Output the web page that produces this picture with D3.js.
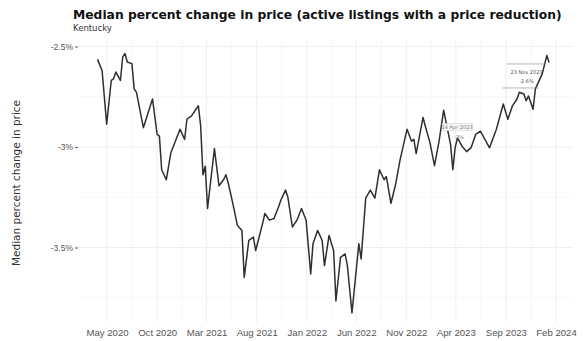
<!DOCTYPE html>
<html>
<head>
<meta charset="utf-8">
<script src="https://cdn.jsdelivr.net/npm/d3@7"></script>
<style>
  body { margin: 0; background: #fff; }
  svg { display: block; font-family: "DejaVu Sans", sans-serif; }
</style>
</head>
<body>
<svg id="vis" width="584" height="341"></svg>
<script>
// weeks counted from the first observation (early April 2020)
const startDate = new Date(2020, 3, 2);
const weekNo = [0, 2, 4, 6, 7, 8, 10, 11, 12, 13, 15, 16, 17, 20, 24, 26, 27, 28, 30, 32,
  36, 38, 39, 41, 44, 45, 46, 47, 48, 51, 53, 55, 56, 57, 59, 61, 63, 64, 66, 68,
  69, 72, 73, 75, 77, 79, 80, 82, 83, 85, 87, 89, 91, 93, 94, 96, 98, 99, 101, 103,
  104, 106, 108, 109, 111, 114, 115, 117, 119, 121, 123, 125, 126, 128, 130, 132, 133, 135, 137, 138,
  139, 142, 143, 145, 147, 149, 151, 152, 154, 155, 156, 157, 159, 161, 163, 165, 167, 169, 171, 174,
  177, 179, 181, 183, 184, 186, 187, 188, 190, 191, 194, 195, 196, 197];
const medianChange = [-2.564, -2.619, -2.887, -2.669, -2.661, -2.627, -2.669, -2.552, -2.535, -2.577,
  -2.585, -2.711, -2.728, -2.904, -2.761, -2.937, -2.946, -3.113, -3.163, -3.029,
  -2.912, -2.962, -2.862, -2.845, -2.795, -2.895, -3.138, -3.096, -3.306, -3.008,
  -3.193, -3.163, -3.138, -3.178, -3.279, -3.389, -3.415, -3.649, -3.465, -3.448,
  -3.515, -3.381, -3.331, -3.364, -3.356, -3.297, -3.264, -3.214, -3.247, -3.398,
  -3.364, -3.306, -3.364, -3.632, -3.481, -3.415, -3.465, -3.590, -3.440, -3.515,
  -3.766, -3.549, -3.532, -3.590, -3.825, -3.481, -3.557, -3.254, -3.214, -3.254,
  -3.113, -3.163, -3.147, -3.280, -3.188, -3.063, -3.013, -2.912, -2.971, -2.962,
  -3.033, -2.853, -2.897, -2.977, -3.093, -2.971, -2.817, -2.874, -2.987, -3.113,
  -3.003, -2.955, -2.996, -3.023, -3.003, -2.937, -2.921, -2.962, -3.004, -2.912,
  -2.786, -2.862, -2.795, -2.761, -2.728, -2.736, -2.770, -2.746, -2.812, -2.711,
  -2.636, -2.590, -2.545, -2.580];

const yTicks = [-3.5, -3, -2.5];
const yTickLabels = ['-3.5%', '-3%', '-2.5%'];
const xTickDates = ['2020-05-01', '2020-10-01', '2021-03-01', '2021-08-01', '2022-01-01',
  '2022-06-01', '2022-11-01', '2023-04-01', '2023-09-01', '2024-02-01'];
const xTickLabels = ['May 2020', 'Oct 2020', 'Mar 2021', 'Aug 2021', 'Jan 2022',
  'Jun 2022', 'Nov 2022', 'Apr 2023', 'Sep 2023', 'Feb 2024'];

const titleText = 'Median percent change in price (active listings with a price reduction)';
const subtitleText = 'Kentucky';
const yTitle = 'Median percent change in price';

const data = weekNo.map((w, i) => ({ date: d3.timeDay.offset(startDate, w * 7), value: medianChange[i] }));
const parse = d3.timeParse('%Y-%m-%d');

const vis = d3.select('#vis');
const panel = { left: 78, right: 573, top: 40, bottom: 322 };

const x = d3.scaleTime()
  .domain([parse(xTickDates[0]), parse(xTickDates[xTickDates.length - 1])])
  .range([107, 556]);
const y = d3.scaleLinear()
  .domain([-3.5, -2.5])
  .range([247.5, 46.5]);

// minor grid
const minorY = d3.range(-3.75, -2.4, 0.5);
vis.append('g').selectAll('line')
  .data(minorY)
  .enter().append('line')
    .attr('x1', panel.left).attr('x2', panel.right)
    .attr('y1', d => y(d)).attr('y2', d => y(d))
    .attr('stroke', '#f3f3f3').attr('stroke-width', 0.6);

const tickDates = xTickDates.map(parse);
const minorX = d3.pairs(tickDates).map(p => new Date((+p[0] + +p[1]) / 2));
vis.append('g').selectAll('line')
  .data(minorX)
  .enter().append('line')
    .attr('x1', d => x(d)).attr('x2', d => x(d))
    .attr('y1', panel.top).attr('y2', panel.bottom)
    .attr('stroke', '#f3f3f3').attr('stroke-width', 0.6);

// major grid
vis.append('g').selectAll('line')
  .data(yTicks)
  .enter().append('line')
    .attr('x1', panel.left).attr('x2', panel.right)
    .attr('y1', d => y(d)).attr('y2', d => y(d))
    .attr('stroke', '#ebebeb').attr('stroke-width', 0.8);

vis.append('g').selectAll('line')
  .data(tickDates)
  .enter().append('line')
    .attr('x1', d => x(d)).attr('x2', d => x(d))
    .attr('y1', panel.top).attr('y2', panel.bottom)
    .attr('stroke', '#ebebeb').attr('stroke-width', 0.8);

// axes
const yAxis = d3.axisLeft(y)
  .tickValues(yTicks)
  .tickFormat((d, i) => yTickLabels[i])
  .tickSize(3)
  .tickPadding(2);
const gy = vis.append('g')
  .attr('transform', 'translate(' + panel.left + ',0)')
  .call(yAxis);
gy.select('.domain').remove();
gy.selectAll('line').attr('stroke', '#555');
gy.selectAll('text').attr('fill', '#555').style('font-size', '8.5px');

const xAxis = d3.axisBottom(x)
  .tickValues(tickDates)
  .tickFormat((d, i) => xTickLabels[i])
  .tickSize(0)
  .tickPadding(7);
const gx = vis.append('g')
  .attr('transform', 'translate(0,' + panel.bottom + ')')
  .call(xAxis);
gx.select('.domain').remove();
gx.selectAll('text').attr('fill', '#555').style('font-size', '9.6px');

// series line
const line = d3.line()
  .x(d => x(d.date))
  .y(d => y(d.value));

vis.append('path')
  .datum(data)
  .attr('d', line)
  .attr('fill', 'none')
  .attr('stroke', '#2f2f2f')
  .attr('stroke-width', 1.5)
  .attr('stroke-linejoin', 'round');

// point labels
const notes = [
  { idx: 90, label: '14 Apr 2023', valLabel: '-3%' },
  { idx: 107, label: '23 Nov 2023', valLabel: '-2.6%' }
];
const noteG = vis.append('g').style('font-size', '5px').attr('fill', '#777');
const n1 = data[notes[0].idx];
noteG.append('rect')
  .attr('x', x(n1.date) - 13).attr('y', y(n1.value) - 24)
  .attr('width', 30).attr('height', 7)
  .attr('fill', '#f7f7f7').attr('stroke', '#ccc').attr('stroke-width', 0.5);
noteG.append('text')
  .attr('x', x(n1.date) + 2).attr('y', y(n1.value) - 18.8)
  .attr('text-anchor', 'middle').text(notes[0].label);
noteG.append('text')
  .attr('x', x(n1.date) + 4).attr('y', y(n1.value) - 9)
  .attr('text-anchor', 'middle').text(notes[0].valLabel);

const n2 = data[notes[1].idx];
noteG.append('line')
  .attr('x1', x(n2.date) - 22).attr('x2', x(n2.date) + 18)
  .attr('y1', y(n2.value) - 32).attr('y2', y(n2.value) - 32)
  .attr('stroke', '#888').attr('stroke-width', 0.6);
noteG.append('text')
  .attr('x', x(n2.date) - 2).attr('y', y(n2.value) - 22)
  .attr('text-anchor', 'middle').attr('fill', '#555').text(notes[1].label);
noteG.append('text')
  .attr('x', x(n2.date) - 2).attr('y', y(n2.value) - 13)
  .attr('text-anchor', 'middle').attr('fill', '#555').text(notes[1].valLabel);
noteG.append('line')
  .attr('x1', x(n2.date) - 26).attr('x2', x(n2.date) + 10)
  .attr('y1', y(n2.value) - 8).attr('y2', y(n2.value) - 8)
  .attr('stroke', '#888').attr('stroke-width', 0.6);

// titles
vis.append('text')
  .attr('x', 73).attr('y', 19)
  .style('font-size', '12.3px').style('font-weight', 'bold')
  .attr('fill', '#111')
  .text(titleText);
vis.append('text')
  .attr('x', 73).attr('y', 31)
  .style('font-size', '8.5px')
  .attr('fill', '#333')
  .text(subtitleText);

vis.append('text')
  .attr('transform', 'translate(20,' + ((panel.top + panel.bottom) / 2 + 2) + ') rotate(-90)')
  .attr('text-anchor', 'middle')
  .style('font-size', '10.5px')
  .attr('fill', '#333')
  .text(yTitle);
</script>
</body>
</html>
